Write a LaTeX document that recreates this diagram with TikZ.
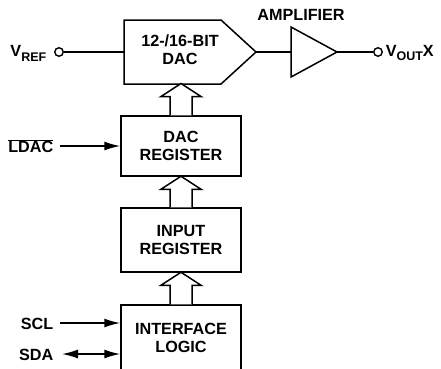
\documentclass[tikz,border=0pt]{standalone}
\usepackage{fontspec}
\setmainfont{Liberation Sans}
\usetikzlibrary{arrows.meta,calc}
\newcommand\subtxt[1]{\raisebox{-0.3em}{\fontsize{12.5}{12.5}\selectfont #1}}
\begin{document}
\begin{tikzpicture}[x=1pt,y=-1pt,line width=1.5pt,line join=miter,
  lbl/.style={font=\fontsize{16.2}{18}\selectfont\bfseries,align=center,inner sep=0pt},
  blk/.style={lbl,draw,fill=white,minimum width=120pt},
  pin/.style={circle,draw,fill=white,inner sep=0pt,minimum size=8.5pt,line width=1.4pt},
  sig/.style={-{Latex[length=16pt,width=9pt]}},
  bisig/.style={{Latex[length=16pt,width=9pt]}-{Latex[length=16pt,width=9pt]}},
  bus/.style={draw,fill=white,to path={let \p1=(\tikztostart),\p2=(\tikztotarget) in
    (\x1-11pt,\y1) -- (\x1-11pt,\y2-12.5pt) -- (\x1-20pt,\y2-12.5pt) -- (\x2,\y2+0.5pt)
    -- (\x1+20pt,\y2-12.5pt) -- (\x1+11pt,\y2-12.5pt) -- (\x1+11pt,\y1)}}]
\useasboundingbox (0,0) rectangle (441,368);
\clip (0,0) rectangle (441,368);

% DAC
\draw (124,20) -- (221,20) -- (256,52) -- (221,84) -- (124,84) -- cycle;
\node[lbl] (dac) at (180,50) {12-/16-BIT\\DAC};
\coordinate (dacin) at (124,52);
\coordinate (dacout) at (256,52);
\coordinate (dacbot) at (181,84);

% amplifier
\draw (291,27) -- (337,52) -- (291,77) -- cycle;
\coordinate (ampin) at (291,52);
\coordinate (ampout) at (337,52);
\node[lbl] (amplbl) at (301,15) {AMPLIFIER};

% pins
\node[pin] (vrefpin) at (59,52) {};
\node[lbl,anchor=east] (vref) at (47,53) {V\subtxt{REF}};
\node[pin] (voutpin) at (378,52) {};
\node[lbl,anchor=west] (vout) at (385,53) {V\subtxt{OUT}X};

\draw (vrefpin) -- (dacin);
\draw (dacout) -- (ampin);
\draw (ampout) -- (voutpin);

% blocks
\node[blk,minimum height=60pt] (dacreg) at (181,146) {DAC\\REGISTER};
\node[blk,minimum height=64pt] (inreg) at (181,240) {INPUT\\REGISTER};
\node[blk,minimum height=66pt] (iface) at (181,338) {INTERFACE\\LOGIC};

% buses
\path[bus] (dacreg.north) to (dacbot);
\path[bus] (inreg.north) to (dacreg.south);
\path[bus] (iface.north) to (inreg.south);

% control signals
\node[lbl,anchor=east] (ldac) at (54,146) {$\overline{\mbox{\bfseries LDAC}}$};
\coordinate (ldacend) at (60,146);
\draw[sig] (ldacend) -- (dacreg.west |- ldacend);

\node[lbl,anchor=east] (scl) at (54,324) {SCL};
\coordinate (sclend) at (60,323);
\draw[sig] (sclend) -- (iface.west |- sclend);

\node[lbl,anchor=east] (sda) at (54,355) {SDA};
\coordinate (sdaend) at (62,354);
\draw[bisig] (sdaend) -- (iface.west |- sdaend);
\end{tikzpicture}
\end{document}
